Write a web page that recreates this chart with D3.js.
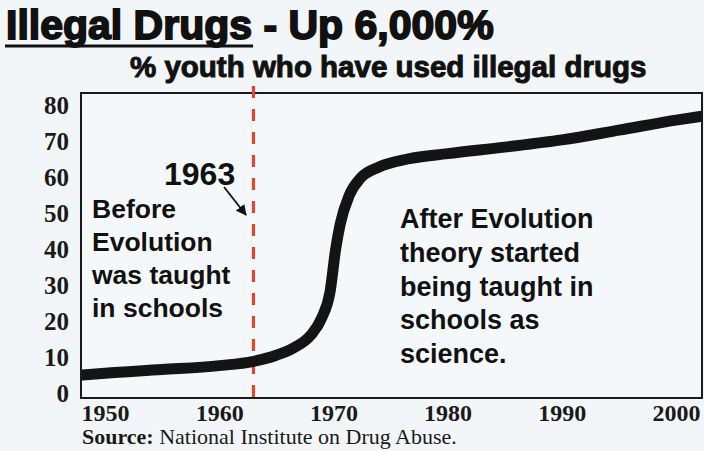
<!DOCTYPE html>
<html>
<head>
<meta charset="utf-8">
<script src="https://cdn.jsdelivr.net/npm/d3@7"></script>
<style>
  html, body { margin: 0; padding: 0; background: #f2f6f8; }
  svg { display: block; }
</style>
</head>
<body>
<svg id="chart" width="704" height="451"></svg>
<script>
// Survey series: share of youth who have used illegal drugs (%)
const years  = [1948, 1950, 1955, 1960, 1963, 1965, 1966.5, 1968, 1969, 1969.7, 1970.2, 1970.6, 1971.4, 1972.4, 1974, 1976.5, 1980, 1985, 1990, 1995, 2000, 2002.5];
const values = [5, 5.5, 6.5, 7.6, 8.8, 10.5, 12.5, 16, 21, 28, 40, 47, 55, 59.8, 62.8, 65, 66.5, 68.3, 70.3, 73, 75.8, 77];

const xTicks = [1950, 1960, 1970, 1980, 1990, 2000];
const yTicks = [0, 10, 20, 30, 40, 50, 60, 70, 80];
const markerYear = 1963;

const beforeLines = ["Before", "Evolution", "was taught", "in schools"];
const afterLines  = ["After Evolution", "theory started", "being taught in", "schools as", "science."];

const svg = d3.select("#chart");
const W = 704, H = 451;

// plot frame
const frame = { left: 81, right: 702, top: 93, bottom: 398 };

const x = d3.scaleLinear().domain([1950, 2000]).range([105, 676]);
const y = d3.scaleLinear().domain([0, 80]).range([393, 105]);

svg.append("rect").attr("width", W).attr("height", H).attr("fill", "#f2f6f8");

// title with underlined lead
const title = svg.append("text")
  .attr("x", 6).attr("y", 39)
  .attr("font-family", "Liberation Sans, Arial, sans-serif")
  .attr("font-weight", "bold").attr("font-size", 41)
  .attr("fill", "#111").attr("stroke", "#111").attr("stroke-width", 1.8)
  .attr("paint-order", "stroke");
const lead = title.append("tspan").text("Illegal Drugs");
title.append("tspan").text(" - Up 6,000%");
const leadLen = lead.node().getComputedTextLength();
svg.append("line")
  .attr("x1", 5).attr("x2", 6 + leadLen + 1)
  .attr("y1", 46).attr("y2", 46)
  .attr("stroke", "#111").attr("stroke-width", 2.8);

svg.append("text")
  .attr("x", 130).attr("y", 77)
  .attr("font-family", "Liberation Sans, Arial, sans-serif")
  .attr("font-weight", "bold").attr("font-size", 29.5)
  .attr("fill", "#111").attr("stroke", "#111").attr("stroke-width", 1)
  .attr("paint-order", "stroke")
  .text("% youth who have used illegal drugs");

// plot area
svg.append("rect")
  .attr("x", frame.left).attr("y", frame.top)
  .attr("width", frame.right - frame.left).attr("height", frame.bottom - frame.top)
  .attr("fill", "#f5f8fa").attr("stroke", "#1a1a1a").attr("stroke-width", 2);

svg.append("clipPath").attr("id", "plotClip")
  .append("rect")
  .attr("x", frame.left + 1).attr("y", frame.top + 1)
  .attr("width", frame.right - frame.left - 2).attr("height", frame.bottom - frame.top - 2);

// y axis labels
const yAxis = d3.axisLeft(y).tickValues(yTicks).tickSize(0).tickPadding(0);
const gy = svg.append("g").attr("transform", "translate(69,0)").call(yAxis);
gy.select(".domain").remove();
gy.selectAll("text")
  .attr("font-family", "Liberation Serif, Times New Roman, serif")
  .attr("font-weight", "bold").attr("font-size", 25)
  .attr("fill", "#1a1a1a");

// x axis labels
const xAxis = d3.axisBottom(x).tickValues(xTicks).tickFormat(d3.format("d")).tickSize(0).tickPadding(0);
const gx = svg.append("g").attr("transform", "translate(0,405)").call(xAxis);
gx.select(".domain").remove();
gx.selectAll("text")
  .attr("font-family", "Liberation Serif, Times New Roman, serif")
  .attr("font-weight", "bold").attr("font-size", 24)
  .attr("dy", "0.66em")
  .attr("fill", "#1a1a1a");

// source note
const src = svg.append("text")
  .attr("x", 82).attr("y", 444)
  .attr("font-family", "Liberation Serif, Times New Roman, serif")
  .attr("font-size", 22).attr("fill", "#1a1a1a");
src.append("tspan").attr("font-weight", "bold").text("Source:");
src.append("tspan").text(" National Institute on Drug Abuse.");

// 1963 marker
svg.append("line")
  .attr("x1", x(markerYear)).attr("x2", x(markerYear))
  .attr("y1", 86).attr("y2", frame.bottom)
  .attr("stroke", "#e2472b").attr("stroke-width", 3.2)
  .attr("stroke-dasharray", "12 11");

// series line
const line = d3.line()
  .x((d, i) => x(years[i]))
  .y(d => y(d))
  .curve(d3.curveMonotoneX);

svg.append("path")
  .datum(values)
  .attr("clip-path", "url(#plotClip)")
  .attr("d", line)
  .attr("fill", "none")
  .attr("stroke", "#141414")
  .attr("stroke-width", 11)
  .attr("stroke-linecap", "round")
  .attr("stroke-linejoin", "round");

// annotations
const sans = "Liberation Sans, Arial, sans-serif";

svg.append("text")
  .attr("x", 164).attr("y", 185)
  .attr("font-family", sans).attr("font-weight", "bold").attr("font-size", 32)
  .attr("fill", "#111")
  .text(markerYear);

svg.append("defs").append("marker")
  .attr("id", "arrowHead").attr("viewBox", "0 0 10 10")
  .attr("refX", 9).attr("refY", 5)
  .attr("markerWidth", 6).attr("markerHeight", 6)
  .attr("orient", "auto")
  .append("path").attr("d", "M0,0L10,5L0,10z").attr("fill", "#111");

svg.append("line")
  .attr("x1", 224).attr("y1", 187)
  .attr("x2", 246).attr("y2", 215)
  .attr("stroke", "#111").attr("stroke-width", 1.8)
  .attr("marker-end", "url(#arrowHead)");

svg.append("g").selectAll("text")
  .data(beforeLines).join("text")
  .attr("x", 92).attr("y", (d, i) => 218 + i * 33)
  .attr("font-family", sans).attr("font-weight", "bold").attr("font-size", 26.5)
  .attr("fill", "#111")
  .text(d => d);

svg.append("g").selectAll("text")
  .data(afterLines).join("text")
  .attr("x", 400).attr("y", (d, i) => 228 + i * 33.8)
  .attr("font-family", sans).attr("font-weight", "bold").attr("font-size", 27)
  .attr("fill", "#111")
  .text(d => d);
</script>
</body>
</html>
